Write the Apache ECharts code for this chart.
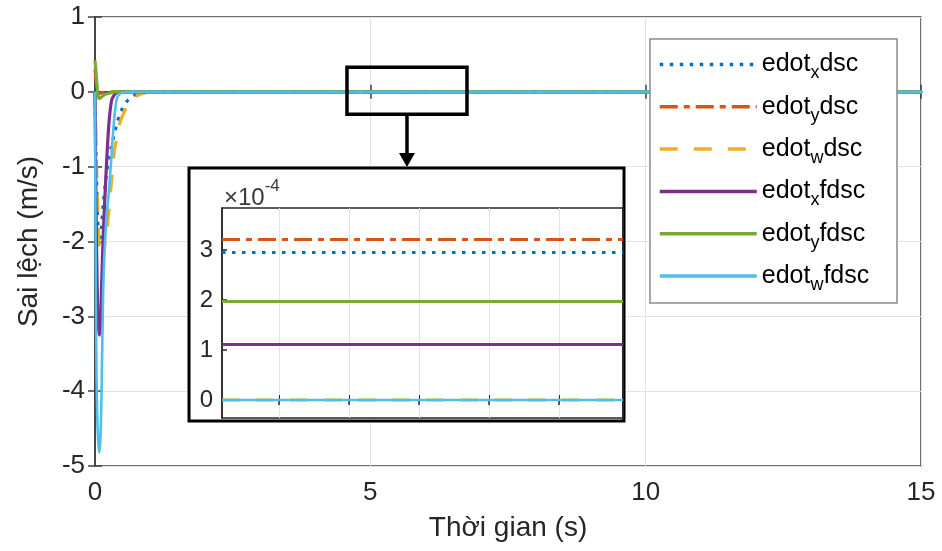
<!DOCTYPE html>
<html>
<head>
<meta charset="utf-8">
<script src="https://cdn.jsdelivr.net/npm/echarts@6/dist/echarts.min.js"></script>
<style>
html,body{margin:0;padding:0;background:#fff;}
#c{width:942px;height:551px;}
</style>
</head>
<body>
<div id="c"></div>
<script>
// ---------- data ----------
const timeS = [0, 0.02, 0.04, 0.06, 0.08, 0.1, 0.12, 0.15, 0.2, 0.25, 0.3, 0.35, 0.4, 0.45, 0.5, 0.6, 0.7, 0.8, 0.9, 1.0, 1.2, 1.5, 2, 15];
const edotXdsc  = [0, -0.9, -1.5, -1.9, -2.05, -2.0, -1.8, -1.5, -1.15, -0.9, -0.72, -0.56, -0.42, -0.3, -0.22, -0.11, -0.05, -0.02, -0.01, -0.003, 2.95e-4, 2.95e-4, 2.95e-4, 2.95e-4];
const edotYdsc  = [0.3, 0.15, 0.04, 0, -0.02, -0.02, -0.015, -0.01, -0.005, -0.002, 0, 0, 0, 0, 0, 0, 0, 0, 0, 0, 3.21e-4, 3.21e-4, 3.21e-4, 3.21e-4];
const edotWdsc  = [0, -0.7, -1.3, -1.8, -2.1, -2.25, -2.25, -2.15, -1.95, -1.6, -1.2, -0.8, -0.6, -0.42, -0.32, -0.17, -0.08, -0.04, -0.015, -0.005, 0, 0, 0, 0];
const edotXfdsc = [0, -1.6, -2.6, -3.1, -3.25, -3.1, -2.6, -1.9, -1.1, -0.45, -0.12, -0.04, -0.01, 0, 0, 0, 0, 0, 0, 0, 1.11e-4, 1.11e-4, 1.11e-4, 1.11e-4];
const edotYfdsc = [0.42, 0.25, 0.05, -0.06, -0.09, -0.08, -0.07, -0.05, -0.03, -0.02, -0.01, 0, 0, 0, 0, 0, 0, 0, 0, 0, 1.97e-4, 1.97e-4, 1.97e-4, 1.97e-4];
const edotWfdsc = [0, -3.3, -4.3, -4.7, -4.82, -4.6, -4.0, -2.6, -1.75, -1.35, -0.85, -0.35, -0.08, -0.03, -0.01, 0, 0, 0, 0, 0, 0, 0, 0, 0];

// inset (zoomed window, values in units of 1e-4)
const insetTime = [4.569, 6.719];
const insetValues = [2.95, 3.21, 0, 1.11, 1.97, 0];
const insetXTicks = [4.875, 5.25, 5.625, 6.0, 6.375];
const insetYTicks = [0, 1, 2, 3];

// zoom window drawn on the main axes [t0, t1, yLow, yHigh]
const zoomWindow = [4.576, 6.755, -0.3, 0.33];

const seriesNames = ['edot_xdsc', 'edot_ydsc', 'edot_wdsc', 'edot_xfdsc', 'edot_yfdsc', 'edot_wfdsc'];
const seriesValues = [edotXdsc, edotYdsc, edotWdsc, edotXfdsc, edotYfdsc, edotWfdsc];
const xTicks = [0, 5, 10, 15];
const yTicks = [-5, -4, -3, -2, -1, 0, 1];

// ---------- styles ----------
const colors = ['#0072BD', '#D95319', '#EDB120', '#7E2F8E', '#77AC30', '#4DBEEE'];
const dashes = [[3.5, 6.5], [18, 6, 6, 6], [18, 16], 'solid', 'solid', 'solid'];
const widths = [3.2, 3.2, 3.2, 3.2, 3.2, 2.6];
const FONT = 'Liberation Sans, Arial, sans-serif';
const AX = '#262626';

const chart = echarts.init(document.getElementById('c'), null, {renderer: 'canvas'});

function pairs(t, v) { return t.map((x, i) => [x, v[i]]); }

const mainSeries = seriesNames.map((n, i) => ({
  name: n, type: 'line', xAxisIndex: 0, yAxisIndex: 0,
  data: pairs(timeS, seriesValues[i]),
  showSymbol: false, symbol: 'none', smooth: 0.3,
  lineStyle: {color: colors[i], width: widths[i], type: dashes[i]},
  itemStyle: {color: colors[i]},
  z: 2 + i * 0.01, silent: true, animation: false
}));
const insetSeries = seriesNames.map((n, i) => ({
  name: 'inset_' + n, type: 'line', xAxisIndex: 2, yAxisIndex: 2,
  data: insetTime.map(t => [t, insetValues[i]]),
  showSymbol: false, symbol: 'none',
  lineStyle: {color: colors[i], width: widths[i], type: dashes[i]},
  z: 7 + i * 0.01, silent: true, animation: false
}));

function legendLabel(name) {
  const m = name.match(/^(.*)_(\w)(.*)$/);
  return '{m|' + m[1] + '}{s|' + m[2] + '}{m|' + m[3] + '}';
}

const option = {
  animation: false,
  backgroundColor: '#fff',
  grid: [
    {left: 95, right: 21, top: 17, bottom: 85, show: true, borderColor: '#404040', borderWidth: 1.5, backgroundColor: 'transparent', z: 0},
    {left: 222, right: 319, top: 208, bottom: 133, show: true, borderColor: AX, borderWidth: 1.5, backgroundColor: 'transparent', z: 6}
  ],
  xAxis: [
    {type: 'value', gridIndex: 0, min: xTicks[0], max: xTicks[xTicks.length - 1], interval: 5, position: 'bottom',
     name: 'Thời gian (s)', nameLocation: 'middle', nameGap: 48,
     nameTextStyle: {fontFamily: FONT, fontSize: 28, color: AX},
     axisLine: {show: true, lineStyle: {color: '#404040', width: 1.5}},
     axisTick: {inside: true, length: 7, lineStyle: {color: '#404040', width: 1.5}},
     axisLabel: {fontFamily: FONT, fontSize: 26, color: AX, margin: 14},
     splitLine: {show: true, lineStyle: {color: '#e3e3e3', width: 1}}},
    {type: 'value', gridIndex: 0, min: xTicks[0], max: xTicks[xTicks.length - 1], interval: 5, position: 'top',
     axisLine: {show: true, lineStyle: {color: '#404040', width: 1.5}},
     axisTick: {inside: true, length: 7, lineStyle: {color: '#404040', width: 1.5}},
     axisLabel: {show: false}, splitLine: {show: false}},
    {type: 'value', gridIndex: 1, min: insetTime[0], max: insetTime[1], position: 'bottom', z: 6,
     axisLine: {show: true, lineStyle: {color: AX, width: 1.5}},
     axisTick: {inside: true, length: 5, lineStyle: {color: AX}, customValues: insetXTicks},
     axisLabel: {show: false, customValues: insetXTicks},
     splitLine: {show: true, lineStyle: {color: '#e3e3e3', width: 1}}},
    {type: 'value', gridIndex: 1, min: insetTime[0], max: insetTime[1], position: 'top', z: 6,
     axisLine: {show: true, lineStyle: {color: AX, width: 1.5}},
     axisTick: {inside: true, length: 5, lineStyle: {color: AX, width: 1.5}, customValues: insetXTicks},
     axisLabel: {show: false, customValues: insetXTicks}, splitLine: {show: false}}
  ],
  yAxis: [
    {type: 'value', gridIndex: 0, min: yTicks[0], max: yTicks[yTicks.length - 1], interval: 1,
     name: 'Sai lệch (m/s)', nameLocation: 'middle', nameGap: 52, nameRotate: 90,
     nameTextStyle: {fontFamily: FONT, fontSize: 28, color: AX},
     axisLine: {show: true, lineStyle: {color: '#404040', width: 1.5}},
     axisTick: {inside: true, length: 7, lineStyle: {color: '#404040', width: 1.5}},
     axisLabel: {fontFamily: FONT, fontSize: 26, color: AX, margin: 10},
     splitLine: {show: true, lineStyle: {color: '#e3e3e3', width: 1}}},
    {type: 'value', gridIndex: 0, min: yTicks[0], max: yTicks[yTicks.length - 1], interval: 1, position: 'right',
     axisLine: {show: true, lineStyle: {color: '#404040', width: 1.5}},
     axisTick: {inside: true, length: 7, lineStyle: {color: '#404040', width: 1.5}},
     axisLabel: {show: false}, splitLine: {show: false}},
    {type: 'value', gridIndex: 1, min: -0.36, max: 3.84, z: 6,
     axisLine: {show: true, lineStyle: {color: AX, width: 1.5}},
     axisTick: {inside: true, length: 5, lineStyle: {color: AX, width: 1.5}, customValues: insetYTicks},
     axisLabel: {fontFamily: FONT, fontSize: 24, color: AX, margin: 9, customValues: insetYTicks},
     splitLine: {show: false}},
    {type: 'value', gridIndex: 1, min: -0.36, max: 3.84, position: 'right', z: 6,
     axisLine: {show: true, lineStyle: {color: AX, width: 1.5}},
     axisTick: {show: false}, axisLabel: {show: false}, splitLine: {show: false}}
  ],
  legend: {
    data: seriesNames, orient: 'vertical', left: 658, top: 52, padding: 0,
    itemWidth: 97, itemHeight: 14, itemGap: 11.8, selectedMode: false, z: 4,
    itemStyle: {opacity: 0},
    lineStyle: {width: 3.5},
    formatter: legendLabel,
    textStyle: {
      fontFamily: FONT, color: '#000',
      rich: {
        m: {fontFamily: FONT, fontSize: 25, color: '#000', lineHeight: 36, verticalAlign: 'middle'},
        s: {fontFamily: FONT, fontSize: 18, color: '#000', verticalAlign: 'bottom'}
      }
    }
  },
  series: mainSeries.concat(insetSeries)
};
chart.setOption(option);

// ---------- annotations (zoom box, arrow, inset frame, legend box) ----------
const pA = chart.convertToPixel({xAxisIndex: 0, yAxisIndex: 0}, [zoomWindow[0], zoomWindow[3]]);
const pB = chart.convertToPixel({xAxisIndex: 0, yAxisIndex: 0}, [zoomWindow[1], zoomWindow[2]]);
const zx = pA[0], zy = pA[1], zw = pB[0] - pA[0], zh = pB[1] - pA[1];
const cx = zx + zw / 2;
const insetBox = {x: 189, y: 168, w: 435, h: 253};

chart.setOption({
  graphic: [
    {type: 'rect', z: 3, silent: true, shape: {x: 650, y: 39, width: 247, height: 264},
     style: {fill: '#fff', stroke: '#8a8a8a', lineWidth: 1.5}},
    {type: 'rect', z: 5, silent: true, shape: {x: insetBox.x, y: insetBox.y, width: insetBox.w, height: insetBox.h},
     style: {fill: '#fff', stroke: '#000', lineWidth: 3}},
    {type: 'rect', z: 5, silent: true, shape: {x: zx, y: zy, width: zw, height: zh},
     style: {fill: 'none', stroke: '#000', lineWidth: 3.5}},
    {type: 'line', z: 5, silent: true, shape: {x1: cx, y1: zy + zh, x2: cx, y2: insetBox.y - 14},
     style: {stroke: '#000', lineWidth: 3.5}},
    {type: 'polygon', z: 5, silent: true, shape: {points: [[cx - 8, insetBox.y - 15], [cx + 8, insetBox.y - 15], [cx, insetBox.y - 1]]},
     style: {fill: '#000'}},
    {type: 'text', z: 8, silent: true, x: 224, y: 194,
     style: {text: '{a|×10}{b|-4}', verticalAlign: 'middle',
       rich: {a: {fontFamily: FONT, fontSize: 24, fill: '#3a3a3a', lineHeight: 32, verticalAlign: 'bottom'},
              b: {fontFamily: FONT, fontSize: 17, fill: '#3a3a3a', verticalAlign: 'top'}}}}
  ]
});
</script>
</body>
</html>
